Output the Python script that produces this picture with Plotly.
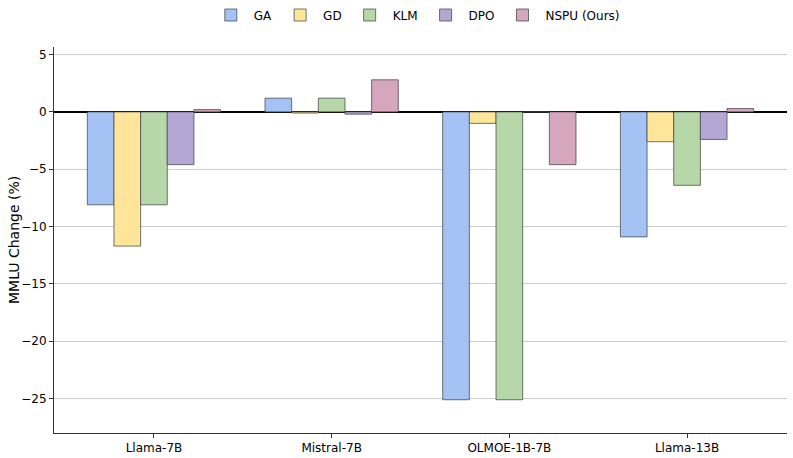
import plotly.graph_objects as go

categories = ["Llama-7B", "Mistral-7B", "OLMOE-1B-7B", "Llama-13B"]
methods = ["GA", "GD", "KLM", "DPO", "NSPU (Ours)"]
ga = [-8.1, 1.2, -25.1, -10.9]
gd = [-11.7, -0.1, -1.0, -2.6]
klm = [-8.1, 1.2, -25.1, -6.4]
dpo = [-4.6, -0.2, 0.0, -2.4]
nspu = [0.2, 2.8, -4.6, 0.3]
series = [ga, gd, klm, dpo, nspu]
colors = ["#a4c2f4", "#ffe599", "#b6d7a8", "#b4a7d6", "#d5a6bd"]
y_title = "MMLU Change (%)"

fig = go.Figure()
for name, vals, col in zip(methods, series, colors):
    fig.add_trace(go.Bar(
        x=categories, y=vals, name=name,
        marker=dict(color=col, line=dict(color="rgba(70,70,70,0.75)", width=1)),
    ))

fig.update_layout(
    width=793, height=458,
    margin=dict(l=54, r=6, t=47, b=25, autoexpand=False),
    paper_bgcolor="white", plot_bgcolor="white",
    barmode="group", bargap=0.25, bargroupgap=0,
    font=dict(family="DejaVu Sans", size=12, color="black"),
    legend=dict(orientation="h", x=0.525, xref="container", xanchor="center",
                y=1 - 15 / 458, yref="container", yanchor="middle",
                font=dict(size=12), itemwidth=36, traceorder="normal"),
    showlegend=True,
)
fig.add_annotation(text=y_title, xref="paper", yref="paper",
                   x=(14 - 54) / 733, y=0.5, textangle=-90,
                   xanchor="center", yanchor="middle", showarrow=False,
                   font=dict(size=14))
fig.update_xaxes(
    range=[-0.5625, 3.5625], showgrid=False, automargin=False,
    showline=True, linecolor="#333333", linewidth=1,
    ticks="outside", ticklen=4, tickcolor="#333333",
    tickfont=dict(size=12),
)
fig.update_yaxes(
    range=[-28, 5.66], tickvals=[5, 0, -5, -10, -15, -20, -25], automargin=False,
    showgrid=True, gridcolor="#cccccc", gridwidth=1,
    zeroline=True, zerolinecolor="black", zerolinewidth=1.5,
    showline=True, linecolor="#333333", linewidth=1,
    ticks="outside", ticklen=4, tickcolor="#333333",
    tickfont=dict(size=12),
)
fig.write_html("out.html", config={"displayModeBar": False},
               post_script="document.body.style.margin='0';document.body.style.overflow='hidden';")
